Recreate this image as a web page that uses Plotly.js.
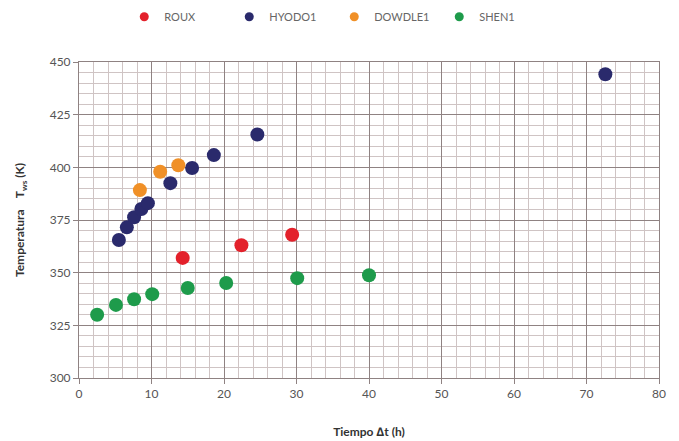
<!DOCTYPE html>
<html><head><meta charset="utf-8">
<script src="https://cdn.plot.ly/plotly-3.0.1.min.js"></script>
<style>body{margin:0;background:#fff}#c{width:679px;height:441px}</style>
</head><body><div id="c"></div>
<script>
const seriesNames = ['ROUX', 'HYODO1', 'DOWDLE1', 'SHEN1'];
const rouxX = [14.3, 22.4, 29.4];
const rouxY = [357, 363, 368];
const hyodoX = [5.5, 6.6, 7.6, 8.6, 9.5, 12.6, 15.6, 18.6, 24.6, 72.6];
const hyodoY = [365.5, 371.5, 376.3, 380.2, 383, 392.5, 399.7, 405.8, 415.6, 444.2];
const dowdleX = [8.4, 11.2, 13.7];
const dowdleY = [389.2, 397.9, 401];
const shenX = [2.5, 5.1, 7.6, 10.1, 15.0, 20.3, 30.1, 40.0];
const shenY = [330, 334.7, 337.4, 339.8, 342.7, 345.1, 347.4, 348.8];
const colors = ['#e3212b', '#2a2a6c', '#f09027', '#1e9b4b'];

const xs = [rouxX, hyodoX, dowdleX, shenX];
const ys = [rouxY, hyodoY, dowdleY, shenY];
const data = [];
seriesNames.forEach((n, i) => {
  data.push({type:'scatter', mode:'markers', name:n, x:xs[i], y:ys[i], showlegend:false,
    legendgroup:n, marker:{color:colors[i], size:14, line:{width:0}}, cliponaxis:false});
});
seriesNames.forEach((n, i) => {
  data.push({type:'scatter', mode:'markers', name:n, x:[null], y:[null], showlegend:true,
    legendgroup:n, marker:{color:colors[i], size:9, line:{width:0}}});
});
const layout = {
  width:679, height:441,
  margin:{l:79, r:20, t:62, b:63},
  paper_bgcolor:'#fff', plot_bgcolor:'#fff',
  font:{family:'Lato, "Open Sans", sans-serif', color:'#555', size:12},
  showlegend:true,
  legend:{orientation:'h', xref:'container', yref:'container', x:0.183, xanchor:'left',
    y:0.962, yanchor:'middle', font:{size:11, color:'#666'}, itemwidth:30,
    entrywidth:60, entrywidthmode:'pixels', tracegroupgap:0},
  xaxis:{range:[0,80], dtick:10, tick0:0, showgrid:true, gridcolor:'#8f8282', gridwidth:1,
    minor:{dtick:2, showgrid:true, gridcolor:'#cfc4c4', gridwidth:1},
    showline:true, linecolor:'#8f8282', linewidth:1, mirror:true,
    ticks:'outside', ticklen:5, tickcolor:'#8f8282', zeroline:false,
    tickfont:{size:12, color:'#555'},
    title:{text:'<b>Tiempo ∆t (h)</b>', font:{size:12, color:'#333'}, standoff:27}},
  yaxis:{range:[300,450], dtick:25, tick0:300, showgrid:true, gridcolor:'#8f8282', gridwidth:1,
    minor:{dtick:5, showgrid:true, gridcolor:'#cfc4c4', gridwidth:1},
    showline:true, linecolor:'#8f8282', linewidth:1, mirror:true,
    ticks:'outside', ticklen:5, tickcolor:'#8f8282', zeroline:false,
    tickfont:{size:12, color:'#555'},
    title:{text:'<b>Temperatura    T<sub>ws</sub> (K)</b>', font:{size:12, color:'#333'}, standoff:22}}
};
Plotly.newPlot('c', data, layout, {displayModeBar:false, staticPlot:true});
</script></body></html>
